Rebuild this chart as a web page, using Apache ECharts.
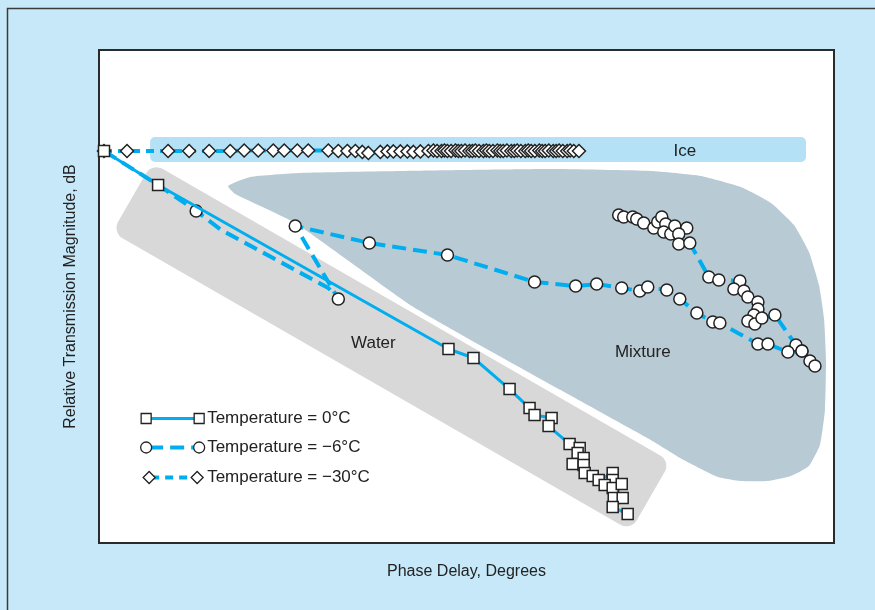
<!DOCTYPE html>
<html>
<head>
<meta charset="utf-8">
<script src="https://cdn.jsdelivr.net/npm/echarts@6/dist/echarts.min.js"></script>
<style>
  html, body { margin: 0; padding: 0; background: #c6e8f8; }
  #chart { width: 875px; height: 610px; }
</style>
</head>
<body>
<div id="chart"></div>
<script>
// series names
const seriesNames = ['Temperature = 0°C', 'Temperature = \u22126°C', 'Temperature = \u221230°C']

// 0 °C, squares
const water0 = [
  [0.68, -8.19], [8.04, -10.95], [47.55, -24.26], [50.95, -24.99], [55.86, -27.51],
  [58.58, -29.05], [59.26, -29.61], [61.58, -29.86], [61.17, -30.51], [64.03, -31.97],
  [65.40, -32.29], [65.12, -32.70], [65.94, -33.10], [64.44, -33.59], [65.94, -33.67],
  [66.08, -34.32], [67.17, -34.56], [67.98, -34.89], [69.89, -34.32], [69.89, -34.89],
  [68.80, -35.29], [69.89, -35.54], [71.12, -35.21], [70.03, -36.35], [71.25, -36.35],
  [69.89, -37.08], [71.93, -37.65]
]

// -6 °C, circles, lower branch (third value 0 = bend without a symbol)
const mix6Lower = [
  [0.68, -8.19, 0], [8.04, -10.95, 0], [13.22, -13.06, 1], [16.62, -14.60, 0], [31.20, -19.31, 0],
  [32.56, -20.20, 1], [26.70, -14.28, 1], [36.78, -15.66, 1], [47.41, -16.63, 1],
  [59.26, -18.82, 1], [64.85, -19.15, 1], [67.71, -18.99, 1], [71.12, -19.31, 1],
  [73.57, -19.55, 1], [74.66, -19.23, 1], [77.25, -19.47, 1], [79.02, -20.20, 1],
  [81.34, -21.34, 1], [83.51, -22.07, 1], [84.47, -22.15, 1], [86.92, -22.96, 0],
  [89.65, -23.85, 1], [91.01, -23.85, 1], [93.73, -24.50, 1], [95.64, -24.42, 1],
  [96.73, -25.23, 1], [97.41, -25.64, 1]
]

// -6 °C, circles, upper branch
const mix6Upper = [
  [70.71, -13.39], [71.39, -13.55], [72.62, -13.55], [73.16, -13.71], [74.11, -14.04],
  [75.48, -14.44], [76.02, -13.96], [76.57, -13.55], [77.11, -14.12], [76.84, -14.77],
  [77.79, -14.93], [78.34, -14.28], [79.97, -14.44], [78.88, -14.93], [78.88, -15.74],
  [80.38, -15.66], [82.97, -18.42], [84.33, -18.66], [87.19, -18.74], [86.38, -19.39],
  [87.74, -19.55], [88.28, -20.04], [89.65, -20.45], [89.65, -21.01], [89.10, -21.50],
  [88.28, -21.99], [89.24, -22.23], [90.19, -21.74], [91.96, -21.50], [94.82, -23.94],
  [95.64, -24.42]
]

// -30 °C, diamonds
const ice30 = [
  [0.68, -8.19], [3.81, -8.19], [9.40, -8.19], [12.26, -8.19], [14.99, -8.19],
  [17.85, -8.19], [19.75, -8.15], [21.66, -8.15], [23.71, -8.15], [25.20, -8.15],
  [26.98, -8.15], [28.47, -8.15], [31.20, -8.15], [32.56, -8.19], [33.79, -8.19],
  [34.88, -8.19], [35.83, -8.27], [36.65, -8.35], [38.28, -8.27], [39.24, -8.23],
  [40.05, -8.23], [41.01, -8.23], [41.96, -8.23], [42.78, -8.27], [43.73, -8.23],
  [44.82, -8.19], [45.5, -8.15], [46.0, -8.19], [46.6, -8.19], [47.0, -8.15],
  [47.4, -8.19], [47.9, -8.19], [48.5, -8.15], [48.9, -8.19], [49.3, -8.19],
  [49.8, -8.15], [50.4, -8.19], [50.8, -8.19], [51.2, -8.15], [51.7, -8.19],
  [52.3, -8.19], [52.7, -8.15], [53.1, -8.19], [53.6, -8.19], [54.2, -8.15],
  [54.6, -8.19], [55.0, -8.19], [55.5, -8.15], [56.1, -8.19], [56.5, -8.19],
  [56.9, -8.15], [57.4, -8.19], [58.0, -8.19], [58.4, -8.15], [58.8, -8.19],
  [59.3, -8.19], [59.9, -8.15], [60.3, -8.19], [60.7, -8.19], [61.2, -8.15],
  [61.8, -8.19], [62.2, -8.19], [62.6, -8.15], [63.1, -8.19], [63.7, -8.19],
  [64.1, -8.15], [64.6, -8.19], [65.3, -8.19]
]

// shaded regions
const regionNames = ['Ice', 'Water', 'Mixture']
const iceBox = [[6.95, -7.06], [96.19, -9.09]]
const waterAxis = [[4.50, -11.97], [75.07, -36.19]]
const mixtureOutline = [
  [17.57, -11.03], [20.57, -10.30], [27.38, -9.98], [41.01, -9.82], [61.44, -9.66],
  [75.07, -9.82], [81.88, -10.22], [87.33, -11.12], [91.42, -12.41], [94.55, -14.20],
  [96.59, -16.39], [97.96, -19.07], [98.64, -21.74], [98.91, -25.15], [98.77, -29.21],
  [98.09, -32.05], [96.59, -33.75], [94.14, -34.56], [91.01, -34.97], [87.33, -34.97],
  [84.20, -34.65], [79.56, -33.27], [75.07, -31.64], [62.81, -27.59], [42.78, -20.85],
  [26.70, -14.04], [18.53, -11.68]
]
const regionLabelPos = [[79.7, -8.19], [37.33, -23.77], [73.98, -24.50]]

const BLUE = '#00aeef'
const INK = '#222'
const FONT = '"Liberation Sans", Arial, sans-serif'

const chart = echarts.init(document.getElementById('chart'))

function renderRegion(params, api) {
  const i = params.dataIndex
  const lp = api.coord(regionLabelPos[i])
  const label = {
    type: 'text',
    z2: 5,
    style: {
      text: regionNames[i], x: lp[0], y: lp[1], fill: INK,
      font: '17px ' + FONT, align: 'center', verticalAlign: 'middle'
    }
  }
  let shape
  if (i === 0) {
    const a = api.coord(iceBox[0])
    const b = api.coord(iceBox[1])
    shape = {
      type: 'rect',
      shape: { x: a[0], y: a[1], width: b[0] - a[0], height: b[1] - a[1], r: 5 },
      style: { fill: '#b5e1f6' }
    }
  } else if (i === 1) {
    const a = api.coord(waterAxis[0])
    const b = api.coord(waterAxis[1])
    const len = Math.hypot(b[0] - a[0], b[1] - a[1])
    const ang = Math.atan2(b[1] - a[1], b[0] - a[0])
    const w = 80
    shape = {
      type: 'rect',
      x: (a[0] + b[0]) / 2,
      y: (a[1] + b[1]) / 2,
      rotation: -ang,
      shape: { x: -len / 2, y: -w / 2, width: len, height: w, r: 12 },
      style: { fill: '#d8d8d8' }
    }
  } else {
    shape = {
      type: 'polygon',
      shape: { points: mixtureOutline.map(p => api.coord(p)), smooth: 0.15 },
      style: { fill: '#b8cad3' }
    }
  }
  return { type: 'group', children: [shape, label] }
}

const markerStyle = { color: '#fff', borderColor: '#222', borderWidth: 1.5 }

const option = {
  animation: false,
  backgroundColor: '#c6e8f8',
  graphic: [
    {
      type: 'rect',
      left: 5, top: 6,
      shape: { width: 1000, height: 1000 },
      style: { fill: 'none', stroke: '#3a3a3a', lineWidth: 1.5 },
      silent: true,
      z: -10
    },
    {
      type: 'group',
      left: 140, top: 410,
      z: 100,
      children: [
        { type: 'line', shape: { x1: 6, y1: 9, x2: 57, y2: 9 }, style: { stroke: BLUE, lineWidth: 3 } },
        { type: 'rect', shape: { x: 0, y: 4, width: 10, height: 10 }, style: { fill: '#fff', stroke: INK, lineWidth: 1.3 } },
        { type: 'rect', shape: { x: 53, y: 4, width: 10, height: 10 }, style: { fill: '#fff', stroke: INK, lineWidth: 1.3 } },
        { type: 'text', style: { text: seriesNames[0], x: 66, y: 9, fill: INK, font: '17px ' + FONT, verticalAlign: 'middle' } },

        { type: 'line', shape: { x1: 8, y1: 38, x2: 55, y2: 38 }, style: { stroke: BLUE, lineWidth: 4, lineDash: [14, 7] } },
        { type: 'circle', shape: { cx: 5, cy: 38, r: 5.5 }, style: { fill: '#fff', stroke: INK, lineWidth: 1.3 } },
        { type: 'circle', shape: { cx: 58, cy: 38, r: 5.5 }, style: { fill: '#fff', stroke: INK, lineWidth: 1.3 } },
        { type: 'text', style: { text: seriesNames[1], x: 66, y: 38, fill: INK, font: '17px ' + FONT, verticalAlign: 'middle' } },

        { type: 'line', shape: { x1: 10, y1: 68, x2: 53, y2: 68 }, style: { stroke: BLUE, lineWidth: 4, lineDash: [8, 6] } },
        { type: 'polygon', shape: { points: [[2, 68], [8, 62], [14, 68], [8, 74]] }, style: { fill: '#fff', stroke: INK, lineWidth: 1.3 } },
        { type: 'polygon', shape: { points: [[50, 68], [56, 62], [62, 68], [56, 74]] }, style: { fill: '#fff', stroke: INK, lineWidth: 1.3 } },
        { type: 'text', style: { text: seriesNames[2], x: 66, y: 68, fill: INK, font: '17px ' + FONT, verticalAlign: 'middle' } }
      ]
    }
  ],
  grid: {
    show: true,
    left: 99, top: 50, right: 41, bottom: 67,
    backgroundColor: '#fff',
    borderColor: '#2a2a2a',
    borderWidth: 2
  },
  xAxis: {
    type: 'value', min: 0, max: 100,
    name: 'Phase Delay, Degrees',
    nameLocation: 'middle', nameGap: 21,
    nameTextStyle: { color: INK, fontSize: 16, fontFamily: FONT },
    axisLine: { show: false }, axisTick: { show: false },
    axisLabel: { show: false }, splitLine: { show: false }
  },
  yAxis: {
    type: 'value', min: -40, max: 0,
    name: 'Relative Transmission Magnitude, dB',
    nameLocation: 'middle', nameGap: 20,
    nameTextStyle: { color: INK, fontSize: 16, fontFamily: FONT },
    axisLine: { show: false }, axisTick: { show: false },
    axisLabel: { show: false }, splitLine: { show: false }
  },
  series: [
    {
      type: 'custom',
      name: 'regions',
      z: 1,
      silent: true,
      renderItem: renderRegion,
      data: regionNames.map((n, i) => [i, -1])
    },
    {
      type: 'line',
      name: seriesNames[2],
      z: 3,
      data: ice30,
      symbol: 'diamond',
      symbolSize: [13, 13],
      itemStyle: markerStyle,
      lineStyle: { color: BLUE, width: 4, type: [8, 6] }
    },
    {
      type: 'line',
      name: seriesNames[1],
      z: 4,
      data: mix6Upper,
      symbol: 'circle',
      symbolSize: 12,
      itemStyle: markerStyle,
      lineStyle: { color: BLUE, width: 4, type: [14, 7] }
    },
    {
      type: 'line',
      name: seriesNames[1],
      z: 4,
      data: mix6Lower.map(p => p[2] ? [p[0], p[1]] : { value: [p[0], p[1]], symbol: 'none' }),
      symbol: 'circle',
      symbolSize: 12,
      itemStyle: markerStyle,
      lineStyle: { color: BLUE, width: 4, type: [14, 7] }
    },
    {
      type: 'line',
      name: seriesNames[0],
      z: 5,
      data: water0,
      symbol: 'rect',
      symbolSize: 11,
      itemStyle: markerStyle,
      lineStyle: { color: BLUE, width: 3 }
    }
  ]
}

chart.setOption(option)
</script>
</body>
</html>
